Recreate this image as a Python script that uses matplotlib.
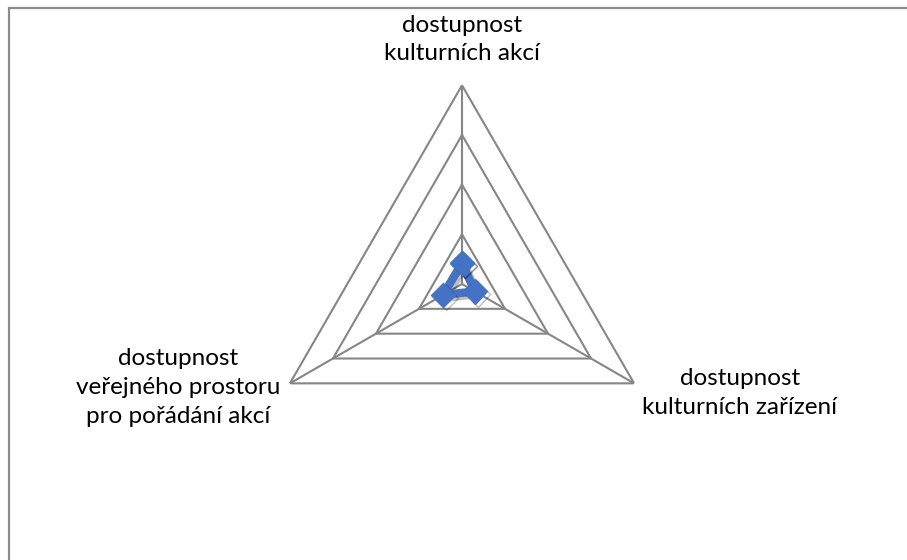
import numpy as np
import matplotlib
matplotlib.use("Agg")
import matplotlib.pyplot as plt
import matplotlib.patheffects as pe
from matplotlib.patches import Rectangle

plt.rcParams['font.family'] = ['Lato', 'DejaVu Sans']

# data
categories = ["dostupnost\nkulturních akcí",
              "dostupnost\nkulturních zařízení",
              "dostupnost\nveřejného prostoru\npro pořádání akcí"]
values = [0.42, 0.30, 0.44]
grid_levels = [1, 2, 3, 4]

fig = plt.figure(figsize=(9.07, 5.6), dpi=100)

# frame around the chart area (right/bottom edges run off the image)
fig.patches.append(Rectangle((9 / 907, -0.05), 1.2, 552 / 560 + 0.05,
                             transform=fig.transFigure, fill=False,
                             edgecolor="#8c8c8c", lw=1.6, clip_on=False))

cx, cy, rad = 462 / 907, (560 - 284) / 560, 198.7
w, h = rad / 907, rad / 560
ax = fig.add_axes([cx - w, cy - h, 2 * w, 2 * h], projection="polar")
ax.set_theta_zero_location("N")
ax.set_theta_direction(-1)
ax.set_ylim(0, grid_levels[-1])
ax.grid(False)
ax.set_xticks([])
ax.set_yticks([])
ax.spines["polar"].set_visible(False)
ax.patch.set_visible(False)

angles = np.arange(len(categories)) * 2 * np.pi / len(categories)
closed = np.append(angles, angles[0])

# triangle gridlines and spokes
for lv in grid_levels:
    ax.plot(closed, [lv] * len(closed), color="#868686", lw=1.5, zorder=1)
for a in angles:
    ax.plot([a, a], [0, grid_levels[-1]], color="#868686", lw=1.5, zorder=1)

# series
shadow = [pe.SimpleLineShadow(offset=(2, -2), alpha=0.25), pe.Normal()]
ax.plot(closed, np.append(values, values[0]), color="#4472C4", lw=6,
        marker="D", ms=12.5, markeredgecolor="#4472C4", zorder=3,
        path_effects=shadow, solid_joinstyle="round")

# axis labels
lab = dict(textcoords="offset points", multialignment="center",
           fontsize=17.5, linespacing=1.45, annotation_clip=False)
ax.annotate(categories[0], xy=(angles[0], grid_levels[-1]), xytext=(0, 15),
            ha="center", va="bottom", **lab)
ax.annotate(categories[1], xy=(angles[1], grid_levels[-1]), xytext=(6, -7),
            ha="left", va="center", **lab)
ax.annotate(categories[2], xy=(angles[2], grid_levels[-1]), xytext=(-7, -3),
            ha="right", va="center", **lab)

fig.savefig("out.png", dpi=100)
